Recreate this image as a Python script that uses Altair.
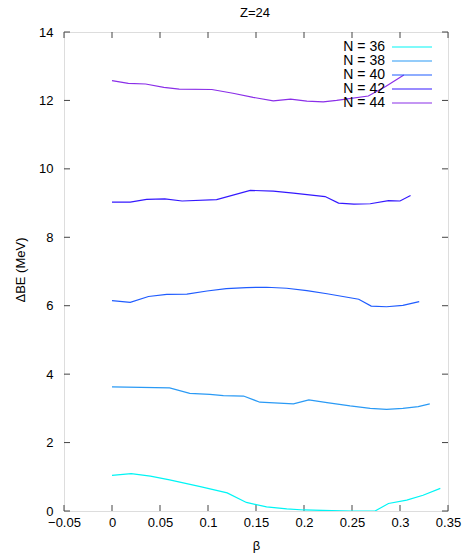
import altair as alt
import pandas as pd

# ---- data ----
chart_title = "Z=24"
series_names = ["N = 36", "N = 38", "N = 40", "N = 42", "N = 44"]
series_colors = ["#00f5f5", "#2a9af5", "#1f5cff", "#3418ff", "#8a2ee8"]

beta_36 = [0, 0.02, 0.04, 0.06, 0.092, 0.12, 0.14, 0.161, 0.182, 0.2, 0.229, 0.25, 0.274, 0.288, 0.307, 0.324, 0.342]
dbe_36 = [1.04, 1.09, 1.02, 0.91, 0.71, 0.53, 0.25, 0.12, 0.06, 0.03, 0.01, 0.0, 0.0, 0.22, 0.32, 0.46, 0.66]

beta_38 = [0, 0.06, 0.081, 0.102, 0.116, 0.137, 0.154, 0.189, 0.205, 0.224, 0.248, 0.269, 0.286, 0.303, 0.319, 0.331]
dbe_38 = [3.63, 3.6, 3.44, 3.41, 3.37, 3.36, 3.18, 3.13, 3.25, 3.17, 3.07, 3.0, 2.97, 3.0, 3.05, 3.13]

beta_40 = [0, 0.019, 0.038, 0.057, 0.078, 0.099, 0.119, 0.14, 0.161, 0.182, 0.203, 0.224, 0.257, 0.27, 0.286, 0.303, 0.32]
dbe_40 = [6.15, 6.1, 6.27, 6.33, 6.34, 6.43, 6.5, 6.53, 6.54, 6.51, 6.44, 6.35, 6.19, 5.99, 5.97, 6.01, 6.12]

beta_42 = [0, 0.019, 0.036, 0.055, 0.073, 0.109, 0.144, 0.168, 0.189, 0.222, 0.236, 0.252, 0.269, 0.288, 0.3, 0.311]
dbe_42 = [9.03, 9.03, 9.11, 9.12, 9.06, 9.1, 9.37, 9.35, 9.29, 9.19, 9.0, 8.97, 8.98, 9.07, 9.06, 9.22]

beta_44 = [0, 0.017, 0.035, 0.054, 0.07, 0.104, 0.126, 0.147, 0.168, 0.186, 0.203, 0.22, 0.234, 0.267, 0.285, 0.304]
dbe_44 = [12.58, 12.5, 12.48, 12.38, 12.33, 12.32, 12.21, 12.09, 11.99, 12.04, 11.98, 11.96, 12.0, 12.13, 12.41, 12.74]

x_ticks = [-0.05, 0, 0.05, 0.1, 0.15, 0.2, 0.25, 0.3, 0.35]
y_ticks = [0, 2, 4, 6, 8, 10, 12, 14]

# ---- tables ----
frames = []
for name, b, d in zip(series_names,
                      [beta_36, beta_38, beta_40, beta_42, beta_44],
                      [dbe_36, dbe_38, dbe_40, dbe_42, dbe_44]):
    frames.append(pd.DataFrame({"beta": b, "dbe": d, "series": name, "order": range(len(b))}))
df = pd.concat(frames, ignore_index=True)
xt = pd.DataFrame({"v": x_ticks})
yt = pd.DataFrame({"v": y_ticks})
leg = pd.DataFrame({"series": series_names})
ttl = pd.DataFrame({"t": [chart_title]})

W, H = 384, 479
FONT = "Liberation Sans"
TICK = 6

xscale = alt.Scale(domain=[-0.05, 0.35], nice=False, zero=False)
yscale = alt.Scale(domain=[0, 14], nice=False, zero=False)
cscale = alt.Scale(domain=series_names, range=series_colors)

lines = alt.Chart(df).mark_line(strokeWidth=1.2, clip=True).encode(
    x=alt.X("beta:Q", scale=xscale,
            axis=alt.Axis(values=x_ticks, title="β", tickSize=0, domain=False, grid=False,
                          labelPadding=5, labelFontSize=13, labelFont=FONT, labelColor="#000",
                          labelFlush=False, format="~g",
                          titleFontSize=13, titleFont=FONT, titleFontWeight="normal",
                          titleX=W / 2, titleY=34, titleBaseline="middle", titleColor="#000")),
    y=alt.Y("dbe:Q", scale=yscale,
            axis=alt.Axis(values=y_ticks, title="ΔBE (MeV)", tickSize=0, domain=False, grid=False,
                          labelPadding=11, labelFontSize=13, labelFont=FONT, labelColor="#000",
                          labelFlush=False,
                          titleFontSize=13, titleFont=FONT, titleFontWeight="normal",
                          titleX=-44, titleY=H / 2 - 2, titleAngle=-90, titleAlign="center",
                          titleBaseline="middle", titleColor="#000")),
    color=alt.Color("series:N", scale=cscale, legend=None),
    order="order:Q",
)

tick_style = dict(color="#444", strokeWidth=1)
xb = alt.Chart(xt).mark_rule(**tick_style).encode(x=alt.X("v:Q", scale=xscale), y=alt.value(H), y2=alt.value(H - TICK))
xt_ = alt.Chart(xt).mark_rule(**tick_style).encode(x=alt.X("v:Q", scale=xscale), y=alt.value(0), y2=alt.value(TICK))
yl = alt.Chart(yt).mark_rule(**tick_style).encode(y=alt.Y("v:Q", scale=yscale), x=alt.value(0), x2=alt.value(TICK))
yr = alt.Chart(yt).mark_rule(**tick_style).encode(y=alt.Y("v:Q", scale=yscale), x=alt.value(W), x2=alt.value(W - TICK))

# plot title as a text mark centred above the frame
title_mark = alt.Chart(ttl).mark_text(align="center", baseline="middle", fontSize=13, font=FONT,
                                      color="#000").encode(
    text="t:N", x=alt.value(W / 2 - 1), y=alt.value(-19))

base = alt.layer(xb, xt_, yl, yr, lines, title_mark)

# key (gnuplot style: text then line sample)
legy = alt.Y("series:N", scale=alt.Scale(type="point", domain=series_names, range=[15, 71], padding=0), axis=None)
leg_text = alt.Chart(leg).mark_text(align="right", baseline="middle", fontSize=14, font=FONT, color="#000").encode(
    y=legy, x=alt.value(321), text="series:N")
leg_line = alt.Chart(leg).mark_rule(strokeWidth=1.2).encode(
    y=legy, x=alt.value(328), x2=alt.value(368), color=alt.Color("series:N", scale=cscale, legend=None))
key = alt.layer(leg_text, leg_line)

chart = alt.layer(base, key).resolve_scale(y="independent").properties(
    width=W, height=H,
    autosize=alt.AutoSizeParams(type="none"),
    padding={"left": 64, "top": 32, "right": 19, "bottom": 45},
).configure_view(stroke="#000", strokeWidth=2).configure(background="white")

chart.save("out.html", embed_options={"renderer": "svg", "actions": False})
